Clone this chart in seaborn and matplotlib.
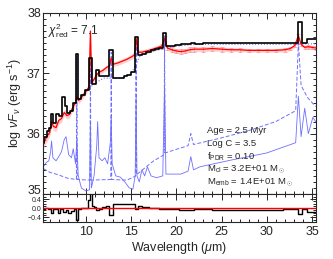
import matplotlib
matplotlib.use("Agg")
import matplotlib.pyplot as plt
import seaborn as sns
from matplotlib.ticker import MultipleLocator
from matplotlib.transforms import ScaledTranslation

# observed spectrum (red) with errors
wave_obs = [5.3, 5.5, 5.8, 6.0, 6.2, 6.4, 6.7, 7.0, 7.3, 7.6, 7.9, 8.2, 8.5, 8.8, 9.0, 9.2,
            9.5, 9.8, 10.1, 10.35, 10.5, 10.65, 10.9, 11.2, 11.5, 11.9, 12.3, 12.6, 12.8, 13.0,
            13.5, 14.0, 14.5, 15.0, 15.35, 15.55, 15.75, 16.2, 17.0, 17.8, 18.4, 18.7, 19.0,
            19.5, 20.0, 20.5, 21.0, 21.5, 22.0, 23.0, 24.0, 25.0, 26.0, 27.0, 28.0, 29.0,
            30.0, 31.0, 32.0, 32.6, 33.1, 33.5, 33.8, 34.2, 34.6, 35.0, 35.4]
logL_obs = [35.82, 35.90, 35.98, 36.02, 36.20, 36.12, 36.10, 36.22, 36.25, 36.35, 36.30, 36.32,
            36.42, 36.50, 36.60, 36.55, 36.60, 36.66, 36.72, 36.78, 37.70, 36.85, 36.90, 36.98,
            37.02, 37.05, 37.10, 37.12, 37.25, 37.15, 37.17, 37.20, 37.23, 37.27, 37.30, 37.58,
            37.35, 37.35, 37.38, 37.42, 37.45, 37.58, 37.42, 37.39, 37.37, 37.36, 37.37, 37.39,
            37.40, 37.40, 37.41, 37.40, 37.39, 37.39, 37.38, 37.38, 37.38, 37.38, 37.39, 37.41,
            37.46, 37.62, 37.48, 37.43, 37.44, 37.43, 37.42]
err_obs = [0.08, 0.08, 0.08, 0.07, 0.07, 0.07, 0.07, 0.06, 0.06, 0.06, 0.06, 0.06, 0.05, 0.05,
           0.05, 0.05, 0.05, 0.05, 0.04, 0.04, 0.04, 0.04, 0.04, 0.04, 0.04, 0.04, 0.04, 0.04,
           0.04, 0.04, 0.04, 0.04, 0.04, 0.04, 0.04, 0.04, 0.04, 0.04, 0.04, 0.04, 0.04, 0.04,
           0.04, 0.04, 0.04, 0.04, 0.04, 0.04, 0.04, 0.04, 0.04, 0.04, 0.03, 0.03, 0.03, 0.03,
           0.03, 0.03, 0.03, 0.03, 0.03, 0.03, 0.03, 0.03, 0.03, 0.03, 0.03]

# fitted model, binned (black steps)
wave_fit = [5.3, 5.5, 5.8, 6.0, 6.2, 6.5, 6.9, 7.2, 7.5, 7.8, 8.1, 8.4, 8.7, 9.0, 9.3, 9.7,
            10.1, 10.5, 10.9, 11.3, 11.7, 12.1, 12.4, 12.8, 13.2, 13.6, 14.0, 14.4, 14.8, 15.2,
            15.55, 15.9, 16.4, 16.9, 17.4, 17.9, 18.3, 18.7, 19.1, 19.6, 20.2, 20.8, 21.4,
            21.8, 22.4, 23.5, 25.0, 26.5, 28.0, 29.5, 31.0, 32.3, 33.2, 33.7, 34.15, 34.75, 35.4]
logL_fit = [35.85, 35.95, 36.05, 36.10, 36.32, 36.18, 36.32, 36.30, 36.60, 36.45, 36.35, 36.38,
            36.50, 37.32, 36.58, 36.64, 36.72, 37.25, 36.82, 37.05, 36.95, 36.95, 36.96, 37.38,
            36.93, 36.92, 36.93, 36.95, 36.98, 37.02, 37.60, 37.30, 37.32, 37.35, 37.38, 37.40,
            37.42, 37.67, 37.45, 37.46, 37.47, 37.48, 37.48, 37.50, 37.49, 37.50, 37.50, 37.50,
            37.50, 37.50, 37.50, 37.50, 37.50, 37.85, 37.50, 37.57, 37.57]

# PDR component (blue solid)
wave_pdr = [5.3, 5.6, 5.9, 6.1, 6.2, 6.35, 6.7, 7.0, 7.3, 7.6, 7.8, 8.1, 8.4, 8.6, 8.85, 9.0,
            9.15, 9.5, 10.0, 10.4, 10.5, 10.6, 10.9, 11.2, 11.3, 11.45, 11.8, 12.1, 12.4, 12.7,
            12.8, 12.9, 13.3, 13.8, 14.3, 14.8, 15.2, 15.45, 15.55, 15.65, 15.9, 16.2, 16.5,
            16.8, 17.2, 17.8, 18.5, 18.7, 18.85, 19.5, 20.5, 21.3, 21.6, 21.9, 22.6, 26.0,
            30.0, 33.2, 33.5, 33.8, 34.2, 34.6, 35.1, 35.4]
logL_pdr = [35.45, 35.52, 35.55, 35.70, 35.88, 35.60, 35.55, 35.62, 35.70, 35.90, 35.95, 35.65,
            35.60, 35.75, 35.50, 35.90, 35.30, 35.10, 35.05, 35.07, 36.20, 35.10, 35.30, 35.80,
            36.20, 35.60, 35.55, 35.60, 35.50, 35.85, 36.30, 35.50, 35.30, 35.28, 35.20, 35.10,
            35.08, 35.30, 36.60, 35.30, 35.20, 35.40, 35.30, 35.45, 35.30, 35.27, 35.30, 36.80,
            35.33, 35.33, 35.33, 35.38, 35.62, 35.40, 35.45, 35.56, 35.68, 35.85, 36.62, 35.95,
            36.42, 36.00, 36.27, 36.20]

# HII component (blue dashed)
wave_hii = [5.3, 6.0, 6.9, 8.0, 8.95, 9.0, 9.05, 10.45, 10.5, 10.55, 12.75, 12.8, 12.85, 14.5,
            15.0, 15.5, 15.55, 15.6, 16.5, 17.5, 18.65, 18.7, 18.75, 20.0, 21.3, 21.6, 21.9,
            25.0, 28.0, 31.0, 33.2, 33.5, 33.8, 34.5, 35.4]
logL_hii = [35.42, 35.36, 35.32, 35.26, 35.24, 37.28, 35.24, 35.23, 37.20, 35.23, 35.24, 37.35,
            35.24, 35.23, 35.26, 35.30, 37.55, 35.32, 35.43, 35.55, 35.65, 37.62, 35.68, 35.74,
            35.80, 36.00, 35.82, 35.93, 36.05, 36.20, 36.38, 37.50, 36.80, 36.60, 36.45]

# total model continuum (blue dotted)
wave_tot = [9.3, 10.1, 11.0, 12.0, 13.0, 14.0, 15.0, 16.0, 17.0, 18.0, 19.5, 22.0, 26.0, 30.0,
            33.0, 35.4]
logL_tot = [36.57, 36.71, 36.84, 36.92, 36.92, 36.92, 36.99, 37.29, 37.35, 37.39, 37.44, 37.48,
            37.48, 37.48, 37.48, 37.49]

# residuals (lower panel)
wave_res = [5.3, 5.7, 6.0, 6.2, 6.5, 6.8, 7.0, 7.3, 7.6, 7.9, 8.2, 8.5, 8.8, 9.0, 9.3, 9.7,
            10.1, 10.3, 10.5, 10.75, 11.0, 11.3, 11.6, 12.0, 12.4, 12.8, 13.2, 14.0, 14.5,
            15.0, 15.3, 15.55, 15.9, 16.5, 17.5, 18.7, 19.5, 21.0, 23.0, 25.0, 27.0, 29.0,
            31.0, 32.5, 33.2, 33.7, 34.15, 34.75, 35.4]
resid = [-0.02, 0.0, -0.05, -0.22, -0.05, -0.02, -0.20, -0.05, -0.15, -0.08, -0.22, -0.12,
         -0.05, -0.50, -0.02, 0.02, 0.02, 0.35, 0.65, 0.10, 0.05, -0.10, -0.02, 0.05, 0.08,
         -0.30, 0.20, 0.20, 0.20, 0.20, 0.20, -0.05, 0.10, 0.05, 0.02, -0.05, -0.05, -0.06,
         -0.05, -0.06, -0.06, -0.06, -0.06, -0.05, -0.04, -0.25, -0.05, -0.15, -0.15]

sns.set_style("ticks")
plt.rcParams["font.family"] = ["Liberation Sans", "DejaVu Sans"]
plt.rcParams["mathtext.fontset"] = "custom"
plt.rcParams["mathtext.rm"] = "Liberation Sans"
plt.rcParams["mathtext.it"] = "Liberation Sans:italic"

fig = plt.figure(figsize=(3.33, 2.59), dpi=100)
ax = fig.add_axes([0.129, 0.251, 0.820, 0.699])
axr = fig.add_axes([0.129, 0.143, 0.820, 0.108], sharex=ax)

blue = "#6f6fff"
lo = [v - e for v, e in zip(logL_obs, err_obs)]
hi = [v + e for v, e in zip(logL_obs, err_obs)]
ax.fill_between(wave_obs, lo, hi, color="#ffb0b0", alpha=0.6, lw=0)
ax.errorbar(wave_obs[40:], logL_obs[40:], yerr=err_obs[40:], fmt="none", ecolor="#ff9090",
            elinewidth=0.5, capsize=1.2, capthick=0.5)

sns.lineplot(x=wave_pdr, y=logL_pdr, ax=ax, color=blue, lw=0.6, sort=False)
sns.lineplot(x=wave_hii, y=logL_hii, ax=ax, color=blue, lw=0.7, ls=(0, (4, 2)), sort=False)
sns.lineplot(x=wave_tot, y=logL_tot, ax=ax, color=blue, lw=0.8, ls=":", sort=False)
sns.lineplot(x=wave_obs, y=logL_obs, ax=ax, color="red", lw=0.9, sort=False)
sns.lineplot(x=wave_fit, y=logL_fit, ax=ax, color="black", lw=1.2, drawstyle="steps-mid",
             sort=False)

sns.lineplot(x=wave_res, y=resid, ax=axr, color="black", lw=1.0, drawstyle="steps-mid",
             sort=False)
axr.axhline(0.0, color="red", lw=1.0)

ax.set_xlim(5.25, 35.45)
ax.set_ylim(35.0, 38.0)
axr.set_ylim(-0.6, 0.62)

for a in (ax, axr):
    a.tick_params(which="both", direction="in", top=True, right=True, width=0.7)
    a.tick_params(which="major", length=4)
    a.tick_params(which="minor", length=2)
    a.xaxis.set_major_locator(MultipleLocator(5))
    a.xaxis.set_minor_locator(MultipleLocator(1))
    for s in a.spines.values():
        s.set_linewidth(0.8)

ax.yaxis.set_major_locator(MultipleLocator(1))
ax.yaxis.set_minor_locator(MultipleLocator(0.1))
ax.set_yticks([35, 36, 37, 38])
ax.tick_params(axis="y", labelsize=9, pad=1.5)
ax.tick_params(axis="x", labelbottom=False)
# lift the bottom "35" label a little so it clears the residual panel labels
ax.get_yticklabels()[0].set_transform(
    ax.get_yticklabels()[0].get_transform() + ScaledTranslation(0, 3 / 72, fig.dpi_scale_trans))

axr.yaxis.set_minor_locator(MultipleLocator(0.1))
axr.set_yticks([-0.4, 0.0, 0.4])
axr.set_yticklabels(["\u22120.4", "0.0", "0.4"])
axr.tick_params(axis="y", labelsize=5, pad=1)
axr.tick_params(axis="x", labelsize=9, pad=3)

ax.set_ylabel(r"log $\nu F_\nu$ (erg s$^{-1}$)", fontsize=9, labelpad=2)
axr.set_xlabel(r"Wavelength ($\mu$m)", fontsize=9, labelpad=1)
ax.set_xlabel("")

ax.text(0.02, 0.955, r"$\chi^2_{\rm red}$ = 7.1", transform=ax.transAxes, fontsize=8.5,
        va="top", ha="left")

info = ["Age = 2.5 Myr",
        "Log C = 3.5",
        r"f$_{\rm PDR}$ = 0.10",
        r"M$_{\rm cl}$ = 3.2E+01 M$_\odot$",
        r"M$_{\rm emb}$ = 1.4E+01 M$_\odot$"]
for i, line in enumerate(info):
    ax.text(0.60, 0.35 - i * 0.071, line, transform=ax.transAxes, fontsize=6.8,
            va="center", ha="left")

fig.savefig("out.png", dpi=100)
plt.close(fig)
